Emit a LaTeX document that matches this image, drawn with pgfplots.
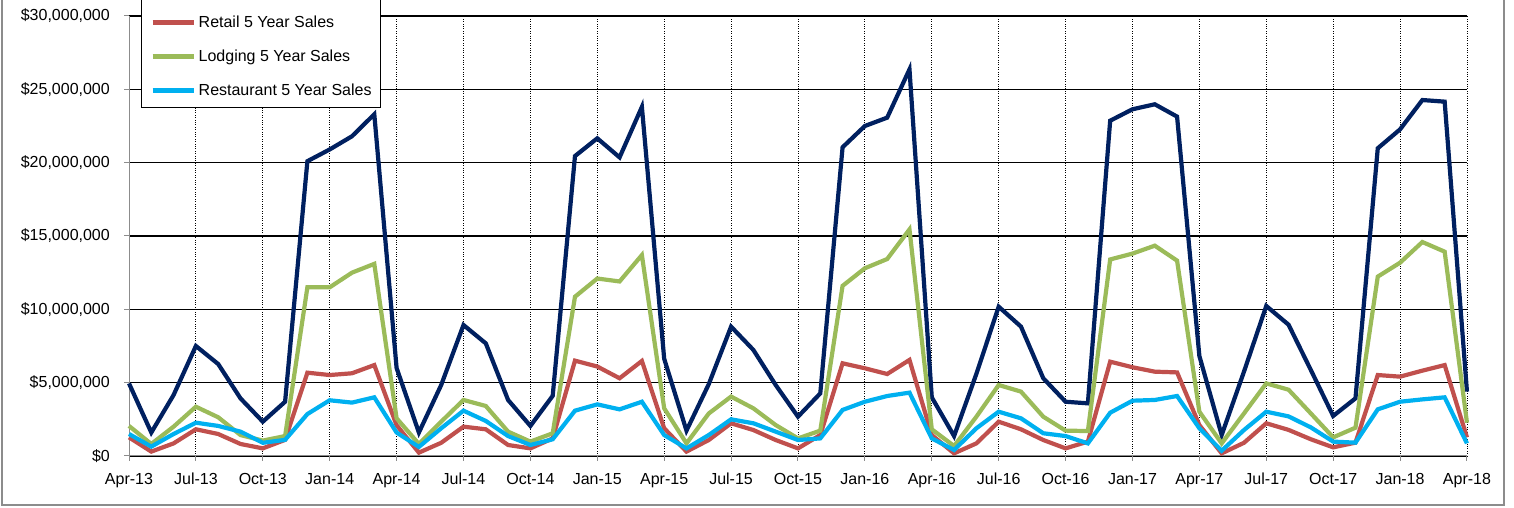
\documentclass[border=0pt]{standalone}
\usepackage{fontspec}
\setmainfont{Liberation Sans}
\usepackage{pgfplots}
\usepackage{pgfplotstable}
\pgfplotsset{compat=1.18}
\definecolor{cNavy}{RGB}{0,32,96}
\definecolor{cRed}{RGB}{192,80,77}
\definecolor{cGreen}{RGB}{155,187,89}
\definecolor{cBlue}{RGB}{0,176,240}
\definecolor{cFrame}{RGB}{140,140,140}
\pgfplotstableread{
m total retail lodging rest
0 4.95 1.27 2.05 1.50
1 1.60 0.30 0.82 0.64
2 4.16 0.86 2.00 1.50
3 7.50 1.82 3.36 2.27
4 6.27 1.50 2.64 2.05
5 3.93 0.82 1.43 1.66
6 2.34 0.52 1.05 0.90
7 3.70 1.10 1.36 1.10
8 20.10 5.68 11.50 2.86
9 20.90 5.52 11.50 3.80
10 21.80 5.64 12.50 3.64
11 23.30 6.20 13.10 4.00
12 6.00 2.10 2.57 1.60
13 1.60 0.23 0.82 0.62
14 4.84 0.90 2.34 1.89
15 8.93 2.00 3.82 3.09
16 7.68 1.82 3.41 2.39
17 3.82 0.75 1.66 1.36
18 2.05 0.52 0.98 0.75
19 4.10 1.20 1.55 1.14
20 20.45 6.50 10.86 3.09
21 21.66 6.10 12.10 3.52
22 20.36 5.30 11.90 3.18
23 23.80 6.48 13.70 3.70
24 6.63 1.89 3.25 1.43
25 1.73 0.30 0.86 0.52
26 4.90 1.09 2.90 1.43
27 8.82 2.23 4.05 2.50
28 7.23 1.77 3.25 2.23
29 4.84 1.09 2.11 1.66
30 2.68 0.52 1.20 1.09
31 4.27 1.43 1.73 1.20
32 21.05 6.32 11.60 3.14
33 22.50 5.98 12.80 3.70
34 23.07 5.59 13.43 4.09
35 26.36 6.55 15.45 4.32
36 4.00 1.43 1.82 1.20
37 1.36 0.18 0.68 0.41
38 5.60 0.86 2.68 1.89
39 10.18 2.34 4.84 3.02
40 8.82 1.82 4.39 2.57
41 5.30 1.09 2.68 1.55
42 3.70 0.52 1.73 1.36
43 3.59 0.98 1.70 0.86
44 22.86 6.43 13.40 2.95
45 23.64 6.05 13.80 3.77
46 23.98 5.75 14.34 3.82
47 23.14 5.70 13.32 4.09
48 6.82 2.11 3.02 1.89
49 1.43 0.18 0.86 0.36
50 5.75 0.90 2.90 1.77
51 10.23 2.23 4.95 3.02
52 8.95 1.78 4.52 2.70
53 5.86 1.14 2.90 1.95
54 2.73 0.59 1.27 0.98
55 3.93 0.91 1.93 0.91
56 20.98 5.52 12.23 3.18
57 22.27 5.41 13.18 3.70
58 24.27 5.82 14.59 3.86
59 24.16 6.20 13.93 4.00
60 4.39 1.27 2.27 0.86
}\salesdata
\begin{document}
\begin{tikzpicture}
\useasboundingbox (0,0) rectangle (1514pt,508pt);
\clip (0,0) rectangle (1514pt,508pt);
\draw[cFrame, line width=1.5pt] (2pt,540pt) -- (2pt,3pt) -- (1504pt,3pt) -- (1504pt,540pt);
\begin{axis}[
  at={(129pt,52pt)}, anchor=south west,
  scale only axis, width=1338pt, height=440pt,
  xmin=0, xmax=60, ymin=0, ymax=30,
  axis x line*=bottom, axis y line*=left,
  axis line style={cFrame, line width=1pt, -},
  clip=false,
  xtick={0,3,...,60},
  xticklabels={Apr-13,Jul-13,Oct-13,Jan-14,Apr-14,Jul-14,Oct-14,Jan-15,Apr-15,Jul-15,Oct-15,Jan-16,Apr-16,Jul-16,Oct-16,Jan-17,Apr-17,Jul-17,Oct-17,Jan-18,Apr-18},
  ytick={0,5,...,30},
  yticklabels={{\$0},{\$5,000,000},{\$10,000,000},{\$15,000,000},{\$20,000,000},{\$25,000,000},{\$30,000,000}},
  tick align=outside, major tick length=5pt,
  tick style={cFrame, line width=1pt},
  xmajorgrids, ymajorgrids,
  x grid style={black, dotted, line width=0.9pt},
  y grid style={black, line width=1.1pt},
  tick label style={font=\fontsize{16}{19}\selectfont},
  xticklabel style={anchor=north, inner sep=0pt, yshift=-12pt},
  yticklabel style={anchor=east, inner sep=0pt, xshift=-14pt},
  legend cell align=left,
  legend image code/.code={\draw[#1] (0pt,0pt) -- (41pt,0pt);},
  legend style={at={(axis description cs:0.00897,0.7909)}, anchor=south west,
    draw=black, line width=1pt, fill=white, inner xsep=9pt, inner ysep=0pt,
    row sep=0pt, font=\fontsize{16}{19}\selectfont,
    nodes={inner sep=0pt, minimum height=34pt},
    /tikz/every odd column/.append style={column sep=3pt}},
]
\addlegendimage{empty legend}
\addlegendentry{\strut}
\addplot[cNavy, line width=4.2pt, forget plot] table[x=m, y=total] {\salesdata};
\addplot[cRed, line width=4.2pt] table[x=m, y=retail] {\salesdata};
\addlegendentry{Retail 5 Year Sales}
\addplot[cGreen, line width=4.2pt] table[x=m, y=lodging] {\salesdata};
\addlegendentry{Lodging 5 Year Sales}
\addplot[cBlue, line width=4.2pt] table[x=m, y=rest] {\salesdata};
\addlegendentry{Restaurant 5 Year Sales}
\end{axis}
\end{tikzpicture}
\end{document}
